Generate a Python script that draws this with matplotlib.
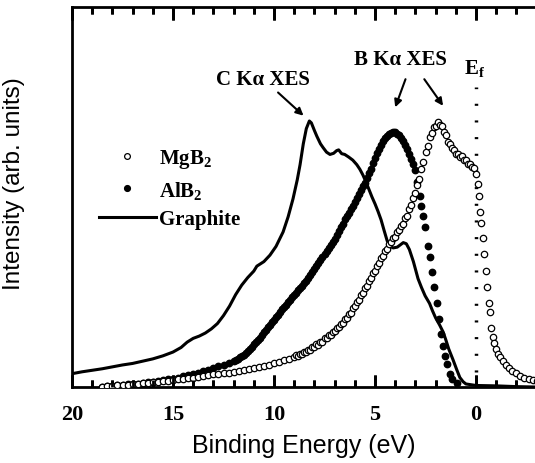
import matplotlib
matplotlib.use("Agg")
import matplotlib.pyplot as plt
from matplotlib.ticker import MultipleLocator

plt.rcParams['mathtext.fontset'] = 'custom'
plt.rcParams['mathtext.rm'] = 'Liberation Serif:bold'
plt.rcParams['mathtext.bf'] = 'Liberation Serif:bold'
plt.rcParams['mathtext.it'] = 'Liberation Serif:bold'

# ---- data (binding energy in eV, intensity in arb. units) ----
graphite_e = [20.0, 19.5, 19.0, 18.5, 18.0, 17.5, 17.0, 16.5, 16.0, 15.5, 15.0, 14.6, 14.3, 14.0,
              13.7, 13.4, 13.1, 12.8, 12.5, 12.2, 11.9, 11.6, 11.3, 11.0, 10.85, 10.5, 10.2, 9.9,
              9.55, 9.3, 9.06, 8.85, 8.71, 8.55, 8.4, 8.25, 8.15, 8.0, 7.88, 7.7, 7.57, 7.4, 7.23,
              7.05, 6.9, 6.8, 6.65, 6.5, 6.3, 6.1, 5.9, 5.75, 5.6, 5.45, 5.3, 5.15, 5.0, 4.85, 4.7,
              4.55, 4.4, 4.25, 4.1, 3.9, 3.75, 3.6, 3.45, 3.3, 3.1, 2.87, 2.7, 2.52, 2.3, 2.15, 2.0,
              1.8, 1.63, 1.5, 1.35, 1.14, 0.95, 0.8, 0.64, 0.5, 0.0, -1.0, -2.0, -2.9]
graphite_i = [0.035, 0.040, 0.044, 0.048, 0.053, 0.058, 0.062, 0.068, 0.074, 0.082, 0.092, 0.104,
              0.118, 0.128, 0.134, 0.142, 0.153, 0.167, 0.188, 0.213, 0.243, 0.268, 0.288, 0.305,
              0.318, 0.330, 0.347, 0.370, 0.408, 0.448, 0.495, 0.545, 0.585, 0.640, 0.680, 0.700,
              0.695, 0.675, 0.660, 0.640, 0.630, 0.618, 0.612, 0.615, 0.622, 0.624, 0.614, 0.612,
              0.605, 0.597, 0.585, 0.573, 0.558, 0.540, 0.520, 0.500, 0.482, 0.462, 0.440, 0.412,
              0.385, 0.370, 0.366, 0.368, 0.374, 0.380, 0.377, 0.362, 0.330, 0.285, 0.262, 0.240,
              0.220, 0.200, 0.182, 0.163, 0.145, 0.125, 0.100, 0.072, 0.045, 0.025, 0.014, 0.008,
              0.004, 0.003, 0.001, 0.000]

alb2_e = [18.5, 18.25, 18.0, 17.75, 17.5, 17.25, 17.0, 16.75, 16.5, 16.25, 16.0, 15.75, 15.5, 15.25,
          15.0, 14.75, 14.5, 14.25, 14.0, 13.75, 13.5, 13.25, 13.0, 12.75, 12.5, 12.25,
          12.0, 11.9, 11.8, 11.7, 11.6, 11.5, 11.4, 11.3, 11.2, 11.1, 11.0, 10.9, 10.8, 10.7, 10.6,
          10.5, 10.4, 10.3, 10.2, 10.1, 10.0, 9.9, 9.8, 9.7, 9.6, 9.5, 9.4, 9.3, 9.2, 9.1, 9.0,
          8.9, 8.8, 8.7, 8.6, 8.5, 8.4, 8.3, 8.2, 8.1, 8.0, 7.9, 7.8, 7.7, 7.6, 7.5, 7.4, 7.3,
          7.2, 7.1, 7.0, 6.9, 6.8, 6.7, 6.6, 6.5, 6.4, 6.3, 6.2, 6.1, 6.0, 5.9, 5.8, 5.7, 5.6,
          5.5, 5.4, 5.3, 5.2, 5.1, 5.0, 4.9, 4.8, 4.7, 4.6, 4.5, 4.4, 4.3, 4.2, 4.1, 4.0, 3.9,
          3.8, 3.7, 3.6, 3.5, 3.4, 3.3, 3.2, 3.1, 3.0,
          2.9, 2.77, 2.7, 2.62, 2.52, 2.38, 2.28, 2.18, 2.06, 1.95, 1.82, 1.72, 1.63, 1.53, 1.44,
          1.3, 1.19, 0.94]
alb2_i = [0.000, 0.002, 0.003, 0.005, 0.006, 0.007, 0.008, 0.009, 0.011, 0.013, 0.014, 0.016, 0.018,
          0.020, 0.022, 0.025, 0.028, 0.031, 0.034, 0.038, 0.042, 0.046, 0.050, 0.054, 0.058, 0.063,
          0.068, 0.071, 0.074, 0.078, 0.081, 0.085, 0.090, 0.095, 0.100, 0.106, 0.112, 0.118, 0.124,
          0.130, 0.137, 0.144, 0.150, 0.157, 0.163, 0.170, 0.177, 0.184, 0.190, 0.197, 0.204, 0.210,
          0.216, 0.223, 0.229, 0.236, 0.242, 0.248, 0.254, 0.260, 0.267, 0.273, 0.280, 0.287, 0.295,
          0.302, 0.310, 0.318, 0.326, 0.334, 0.342, 0.350, 0.358, 0.366, 0.374, 0.382, 0.390, 0.400,
          0.410, 0.420, 0.430, 0.441, 0.450, 0.459, 0.468, 0.477, 0.487, 0.497, 0.508, 0.518, 0.528,
          0.538, 0.550, 0.562, 0.575, 0.589, 0.603, 0.615, 0.627, 0.638, 0.647, 0.655, 0.661, 0.666,
          0.669, 0.671, 0.670, 0.667, 0.662, 0.656, 0.648, 0.638, 0.627, 0.614, 0.601, 0.588, 0.572,
          0.540, 0.503, 0.476, 0.450, 0.420, 0.371, 0.342, 0.303, 0.264, 0.220, 0.178, 0.140, 0.108,
          0.082, 0.060, 0.035, 0.022, 0.010]

mgb2_e = [18.5, 18.25, 18.0, 17.75, 17.5, 17.25, 17.0, 16.75, 16.5, 16.25, 16.0, 15.75, 15.5, 15.25,
          15.0, 14.75, 14.5, 14.25, 14.0, 13.75, 13.5, 13.25, 13.0, 12.75, 12.5, 12.25, 12.0, 11.75,
          11.5, 11.25, 11.0, 10.75, 10.5, 10.25, 10.0, 9.75, 9.5, 9.25,
          9.0, 8.9, 8.8, 8.7, 8.6, 8.5, 8.4, 8.3, 8.2, 8.1, 8.0, 7.9, 7.8, 7.7, 7.6, 7.5, 7.4, 7.3,
          7.2, 7.1, 7.0, 6.9, 6.8, 6.7, 6.6, 6.5, 6.4, 6.3, 6.2, 6.1, 6.0, 5.9, 5.8, 5.7, 5.6, 5.5,
          5.4, 5.3, 5.2, 5.1, 5.0, 4.9, 4.8, 4.7, 4.6, 4.5, 4.4, 4.3, 4.2, 4.1, 4.0, 3.9, 3.8, 3.7,
          3.6, 3.5, 3.4, 3.3, 3.2, 3.1, 3.0, 2.9, 2.8, 2.7, 2.6, 2.5, 2.4, 2.3, 2.2, 2.1, 2.0, 1.9,
          1.8, 1.7, 1.6, 1.5, 1.4, 1.3, 1.2, 1.1, 1.0, 0.9, 0.8, 0.7, 0.6, 0.5, 0.4, 0.3, 0.2, 0.1,
          0.0, -0.08, -0.13, -0.2, -0.26, -0.33, -0.4, -0.47, -0.55, -0.62, -0.67, -0.74, -0.82,
          -0.9, -1.0, -1.1, -1.2, -1.35, -1.5, -1.65, -1.8, -2.0, -2.2, -2.4, -2.6, -2.8, -3.0]
mgb2_i = [0.000, 0.002, 0.003, 0.004, 0.005, 0.006, 0.008, 0.009, 0.010, 0.011, 0.013, 0.014, 0.015,
          0.017, 0.018, 0.020, 0.022, 0.023, 0.025, 0.027, 0.029, 0.031, 0.033, 0.034, 0.036, 0.038,
          0.040, 0.043, 0.046, 0.048, 0.050, 0.053, 0.056, 0.059, 0.062, 0.066, 0.070, 0.074,
          0.079, 0.083, 0.082, 0.088, 0.087, 0.092, 0.091, 0.098, 0.097, 0.104, 0.104, 0.112, 0.111,
          0.119, 0.119, 0.128, 0.128, 0.137, 0.137, 0.146, 0.147, 0.156, 0.158, 0.167, 0.169, 0.180,
          0.182, 0.193, 0.196, 0.208, 0.212, 0.224, 0.229, 0.242, 0.247, 0.261, 0.266, 0.280, 0.286,
          0.300, 0.305, 0.319, 0.326, 0.340, 0.346, 0.359, 0.364, 0.377, 0.381, 0.393, 0.396, 0.408,
          0.412, 0.425, 0.430, 0.444, 0.451, 0.468, 0.478, 0.497, 0.510, 0.532, 0.548, 0.574, 0.593,
          0.619, 0.635, 0.657, 0.668, 0.684, 0.688, 0.697, 0.690, 0.686, 0.670, 0.662, 0.646, 0.640,
          0.628, 0.624, 0.614, 0.614, 0.606, 0.607, 0.598, 0.597, 0.588, 0.587, 0.578, 0.576,
          0.560, 0.535, 0.502, 0.460, 0.432, 0.392, 0.350, 0.305, 0.262, 0.220, 0.198, 0.155, 0.132,
          0.115, 0.100, 0.088, 0.078, 0.068, 0.059, 0.050, 0.043, 0.036, 0.030, 0.025, 0.021,
          0.018, 0.016]

fermi_e = [0.0, 0.0]
fermi_i = [0.04, 0.79]

xticks = [20, 15, 10, 5, 0]
xlim = (20, -2.92)

# ---- figure ----
fig = plt.figure(figsize=(5.35, 4.64), dpi=100)
rect = [72/535, 1 - 388/464, 1 - 72/535, 380/464]
ax = fig.add_axes(rect)

ax.plot(graphite_e, graphite_i, color='black', lw=2.2, label='Graphite', zorder=3)
ax.plot(alb2_e, alb2_i, linestyle='none', marker='o', ms=4.6, mfc='black', mec='black',
        label=r'$\mathbf{AlB_2}$', zorder=4)
ax.plot(mgb2_e, mgb2_i, linestyle='none', marker='o', ms=4.6, mfc='white', mec='black', mew=0.9,
        label=r'$\mathbf{MgB_2}$', zorder=5)
ax.plot(fermi_e, fermi_i, color='black', lw=2.5, linestyle=(0, (0.6, 4.2)), zorder=2)

ax.set_xlim(*xlim)
ax.set_ylim(0, 1)

serif = 'Liberation Serif'
ax.text(10.56, 0.81, 'C Kα XES', family=serif, fontweight='bold', fontsize=15,
        ha='center', va='center')
ax.text(3.74, 0.862, 'B Kα XES', family=serif, fontweight='bold', fontsize=15,
        ha='center', va='center')
ax.text(0.05, 0.84, r'$\mathbf{E_f}$', fontsize=15, ha='center', va='center')

arrow = dict(arrowstyle='-|>', color='black', lw=1.5, mutation_scale=11, shrinkA=0, shrinkB=0)
ax.annotate('', xy=(8.54, 0.714), xytext=(9.8, 0.775), arrowprops=arrow)
ax.annotate('', xy=(4.0, 0.736), xytext=(3.49, 0.81), arrowprops=arrow)
ax.annotate('', xy=(1.63, 0.74), xytext=(2.56, 0.81), arrowprops=arrow)

handles, labels = ax.get_legend_handles_labels()
order = [2, 1, 0]
leg = ax.legend([handles[i] for i in order], [labels[i] for i in order],
                loc='upper left', bbox_to_anchor=(0.058, 0.631), frameon=False,
                borderpad=0, borderaxespad=0, handlelength=2.75, handletextpad=0.15,
                labelspacing=0.4, markerscale=0.9,
                prop={'family': serif, 'weight': 'bold', 'size': 15})

ax.tick_params(axis='y', which='both', left=False, right=False, labelleft=False)
ax.spines['right'].set_visible(False)
for s in ['left', 'top', 'bottom']:
    ax.spines[s].set_linewidth(2.0)

ax.set_xticks(xticks)
ax.xaxis.set_minor_locator(MultipleLocator(1))
ax.tick_params(axis='x', which='both', direction='in', top=True, bottom=True,
               width=2.0, color='black')
ax.tick_params(axis='x', which='major', length=9, pad=12)
ax.tick_params(axis='x', which='minor', length=5)
for lab in ax.get_xticklabels():
    lab.set_family(serif)
    lab.set_fontweight('bold')
    lab.set_fontsize(16)

ax.set_xlabel('Binding Energy (eV)', family='Liberation Sans', fontsize=18, labelpad=7)
ax.set_ylabel('Intensity (arb. units)', family='Liberation Sans', fontsize=17.5)
ax.yaxis.set_label_coords(-0.101, 0.537)

# transparent overlay axes on top, carrying only the inward tick marks
axt = fig.add_axes(rect, facecolor='none', zorder=10)
axt.set_xlim(*xlim)
axt.set_ylim(0, 1)
axt.set_xticks(xticks)
axt.xaxis.set_minor_locator(MultipleLocator(1))
axt.tick_params(axis='x', which='both', direction='in', top=True, bottom=True,
                labelbottom=False, labeltop=False, width=2.0, color='black')
axt.tick_params(axis='x', which='major', length=9)
axt.tick_params(axis='x', which='minor', length=5)
axt.tick_params(axis='y', which='both', left=False, right=False, labelleft=False)
for s in axt.spines.values():
    s.set_visible(False)

fig.savefig('out.png', dpi=100)
